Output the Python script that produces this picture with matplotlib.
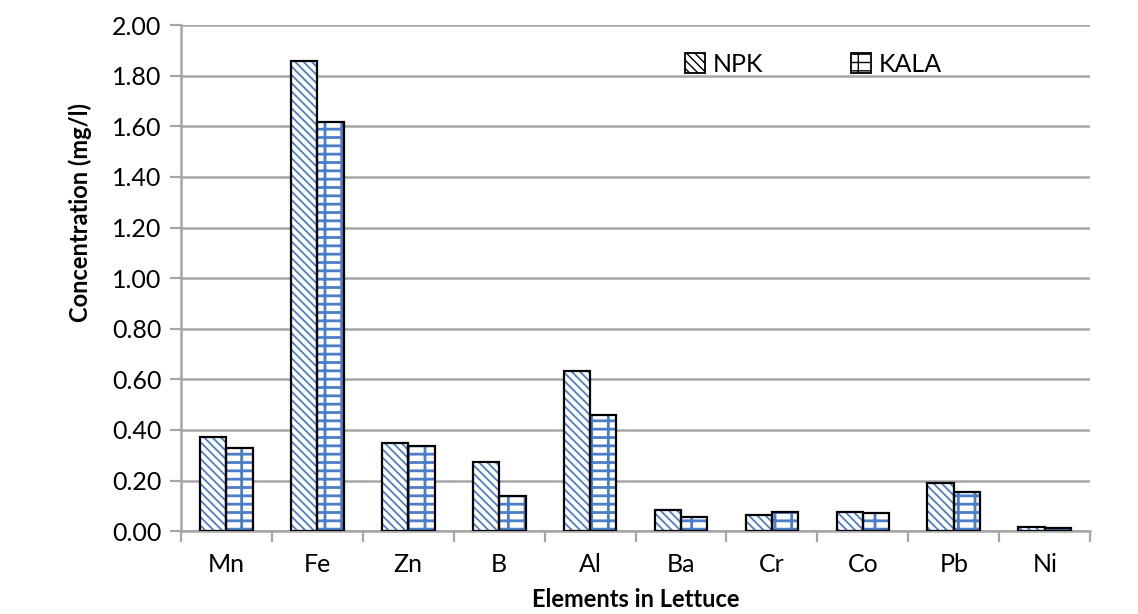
import matplotlib.pyplot as plt
import numpy as np
from matplotlib.patches import Patch

# Data
elements = ['Mn', 'Fe', 'Zn', 'B', 'Al', 'Ba', 'Cr', 'Co', 'Pb', 'Ni']
npk  = [0.372, 1.858, 0.348, 0.273, 0.632, 0.083, 0.063, 0.075, 0.190, 0.016]
kala = [0.328, 1.617, 0.336, 0.138, 0.458, 0.055, 0.075, 0.071, 0.154, 0.012]

plt.rcParams['font.family'] = ['Lato', 'DejaVu Sans']

blue = '#4a7ec8'
grid_col = '#a6a6a6'
h_npk = '\\\\\\\\'
h_kala = '+-'

fig = plt.figure(figsize=(11.38, 6.14), dpi=100)
ax = fig.add_axes([0.159, 0.135, 0.799, 0.824])

x = np.arange(len(elements))
w = 0.29

# hatch layer (blue), then black outline on top
with plt.rc_context({'hatch.linewidth': 1.3}):
    ax.bar(x - w/2, npk, w, color='white', edgecolor=blue, hatch=h_npk, linewidth=0, zorder=2)
    p1 = Patch(facecolor='white', edgecolor=blue, hatch=h_npk, linewidth=0)
with plt.rc_context({'hatch.linewidth': 2.0}):
    ax.bar(x + w/2, kala, w, color='white', edgecolor=blue, hatch=h_kala, linewidth=0, zorder=2)
    p2 = Patch(facecolor='white', edgecolor=blue, hatch=h_kala, linewidth=0)
ax.bar(x - w/2, npk, w, color='none', edgecolor='black', linewidth=1.6, zorder=3)
ax.bar(x + w/2, kala, w, color='none', edgecolor='black', linewidth=1.6, zorder=3)

leg = ax.legend([p1, p2], ['NPK', 'KALA'], loc='upper left', bbox_to_anchor=(0.53, 0.99),
                ncol=2, frameon=False, fontsize=18, columnspacing=3.5,
                handlelength=0.8, handleheight=0.8, handletextpad=0.3)
for p in leg.get_patches():
    p.set_edgecolor('black')
    p.set_linewidth(1.3)

ax.set_xlim(-0.5, len(elements) - 0.5)
ax.set_ylim(0, 2.0)
yt = np.arange(0, 2.01, 0.2)
ax.set_yticks(yt)
ax.set_yticklabels(['%.2f' % v for v in yt], fontsize=18)

ax.set_xticks(x)
ax.set_xticklabels(elements, fontsize=18)
ax.set_xticks(np.arange(-0.5, len(elements), 1), minor=True)
ax.tick_params(axis='x', which='major', length=0, pad=16)
ax.tick_params(axis='x', which='minor', length=8, width=1.6, color=grid_col)
ax.tick_params(axis='y', length=8, width=1.6, color=grid_col, pad=6)

ax.yaxis.grid(True, color=grid_col, linewidth=1.8, zorder=0)
ax.set_axisbelow(True)
for s in ['top', 'right']:
    ax.spines[s].set_visible(False)
for s in ['left', 'bottom']:
    ax.spines[s].set_color(grid_col)
    ax.spines[s].set_linewidth(1.8)

ax.set_ylabel('Concentration (mg/l)', fontsize=17, fontweight='bold')
ax.yaxis.set_label_coords(-0.098, 0.63)
ax.set_xlabel('Elements in Lettuce', fontsize=17, fontweight='bold')
ax.xaxis.set_label_coords(0.5, -0.112)

fig.savefig('out.png', dpi=100)
